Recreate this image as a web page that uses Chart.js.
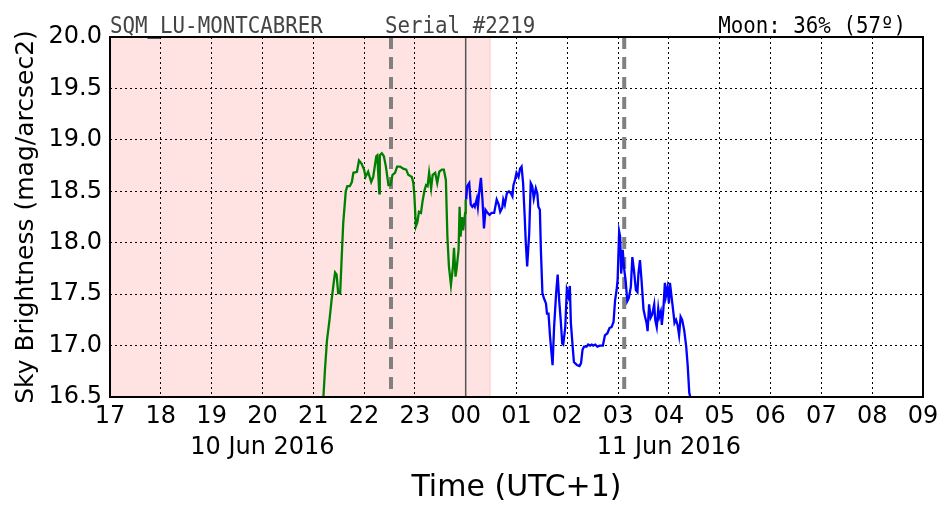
<!DOCTYPE html>
<html>
<head>
<meta charset="utf-8">
<script src="https://cdn.jsdelivr.net/npm/chart.js@4"></script>
<style>
	html, body { margin: 0; padding: 0; background: #ffffff; }
	canvas { display: block; }
</style>
</head>
<body>
<canvas id="sqmChart" width="952" height="512"></canvas>
<script>
// heures depuis 00h du 10 juin (apres minuit = 24+)
const greenHours = [21.20, 21.23, 21.27, 21.32, 21.36, 21.41, 21.43, 21.46, 21.49, 21.53,
	21.56, 21.59, 21.64, 21.67, 21.72, 21.76, 21.79, 21.86, 21.90, 21.95,
	22.00, 22.03, 22.08, 22.14, 22.18, 22.24, 22.26, 22.30, 22.31, 22.35,
	22.39, 22.43, 22.48, 22.52, 22.56, 22.61, 22.65, 22.71, 22.77, 22.83,
	22.87, 22.94, 22.97, 22.99, 23.02, 23.05, 23.08, 23.12, 23.15, 23.19,
	23.22, 23.25, 23.28, 23.32, 23.35, 23.40, 23.44, 23.48, 23.53, 23.57,
	23.61, 23.64, 23.67, 23.71, 23.75, 23.77, 23.80, 23.82, 23.86, 23.88,
	23.90, 23.93, 23.95, 23.99, 24.00];
const greenMags = [16.50, 16.76, 17.05, 17.25, 17.44, 17.64, 17.71, 17.69, 17.51, 17.51,
	17.86, 18.19, 18.50, 18.55, 18.55, 18.59, 18.68, 18.69, 18.80, 18.77,
	18.71, 18.64, 18.69, 18.59, 18.64, 18.84, 18.85, 18.48, 18.85, 18.87,
	18.84, 18.74, 18.56, 18.56, 18.66, 18.68, 18.74, 18.74, 18.72, 18.71,
	18.66, 18.64, 18.58, 18.46, 18.16, 18.20, 18.30, 18.29, 18.40, 18.51,
	18.56, 18.55, 18.68, 18.53, 18.66, 18.68, 18.58, 18.69, 18.71, 18.71,
	18.61, 18.06, 17.77, 17.59, 17.77, 17.95, 17.67, 17.74, 17.93, 18.35,
	18.06, 18.25, 18.12, 18.29, 18.42];

const blueHours = [24.01, 24.03, 24.07, 24.10, 24.13, 24.16, 24.18, 24.22, 24.24, 24.27,
	24.30, 24.33, 24.36, 24.39, 24.43, 24.47, 24.51, 24.56, 24.61, 24.65,
	24.68, 24.72, 24.74, 24.77, 24.81, 24.85, 24.89, 24.92, 24.94, 24.97,
	25.00, 25.04, 25.07, 25.10, 25.13, 25.16, 25.18, 25.21, 25.25, 25.28,
	25.31, 25.34, 25.38, 25.41, 25.43, 25.46, 25.48, 25.51, 25.54, 25.58,
	25.60, 25.63, 25.66, 25.71, 25.74, 25.78, 25.81, 25.84, 25.87, 25.90,
	25.92, 25.96, 25.99, 26.02, 26.05, 26.07, 26.11, 26.13, 26.19, 26.24,
	26.27, 26.30, 26.33, 26.38, 26.41, 26.45, 26.48, 26.51, 26.55, 26.59,
	26.64, 26.70, 26.74, 26.79, 26.83, 26.87, 26.91, 26.94, 26.97, 26.99,
	27.02, 27.04, 27.06, 27.09, 27.12, 27.15, 27.18, 27.21, 27.25, 27.28,
	27.31, 27.35, 27.38, 27.40, 27.43, 27.46, 27.50, 27.53, 27.56, 27.58,
	27.61, 27.64, 27.67, 27.71, 27.73, 27.76, 27.79, 27.81, 27.84, 27.86,
	27.89, 27.92, 27.94, 27.97, 28.00, 28.02, 28.05, 28.09, 28.11, 28.14,
	28.17, 28.20, 28.23, 28.26, 28.30, 28.34, 28.37, 28.40, 28.42];
const blueMags = [18.42, 18.55, 18.58, 18.37, 18.35, 18.37, 18.35, 18.43, 18.35, 18.51,
	18.63, 18.42, 18.14, 18.32, 18.29, 18.27, 18.29, 18.29, 18.42, 18.37,
	18.30, 18.34, 18.42, 18.37, 18.48, 18.50, 18.48, 18.45, 18.56, 18.61,
	18.68, 18.64, 18.72, 18.74, 18.58, 18.27, 18.03, 17.77, 18.09, 18.58,
	18.55, 18.43, 18.53, 18.48, 18.35, 18.32, 17.93, 17.51, 17.46, 17.41,
	17.31, 17.31, 17.09, 16.81, 17.18, 17.51, 17.69, 17.44, 17.25, 17.02,
	17.01, 17.18, 17.54, 17.48, 17.58, 17.22, 16.96, 16.84, 16.81, 16.80,
	16.83, 16.96, 16.99, 16.99, 17.01, 17.00, 17.01, 17.00, 17.01, 16.99,
	17.00, 17.00, 17.10, 17.12, 17.17, 17.18, 17.23, 17.44, 17.54, 17.64,
	18.11, 18.06, 17.70, 17.93, 17.74, 17.62, 17.43, 17.46, 17.57, 17.86,
	17.74, 17.54, 17.52, 17.70, 17.83, 17.64, 17.35, 17.28, 17.22, 17.14,
	17.40, 17.27, 17.30, 17.40, 17.25, 17.18, 17.36, 17.28, 17.33, 17.20,
	17.35, 17.61, 17.48, 17.56, 17.41, 17.61, 17.48, 17.31, 17.22, 17.25,
	17.20, 17.10, 17.28, 17.25, 17.15, 16.99, 16.80, 16.54, 16.50];

// axes
const hourRange = [17, 33];
const magRange = [16.5, 20.0];
const dateTickHours = [20, 28];
const dateTickLabels = ['10 Jun 2016', '11 Jun 2016'];

// zone rose, minuit, lignes pointillees grises
const shadeHours = [17, 24.48];
const midnightHours = [24];
const markerHours = [22.53, 27.12];

// textes du haut
const headerTexts = ['SQM_LU-MONTCABRER', 'Serial #2219', 'Moon: 36% (57º)'];

function toPoints(hours, mags)
{
	return hours.map((h, i) => ({ x: h, y: mags[i] }));
}

function formatHour(value)
{
	const h = Math.round(value) % 24;
	const txt = (h < 10 ? '0' : '') + h;
	const k = dateTickHours.indexOf(Math.round(value));
	if (k >= 0)
		return [txt, dateTickLabels[k]];
	return txt;
}

const backgroundPlugin = {
	id: 'backgroundPlugin',
	beforeDraw(chart) {
		const ctx = chart.ctx;
		const area = chart.chartArea;
		const xs = chart.scales.x;
		const x0 = xs.getPixelForValue(shadeHours[0]);
		const x1 = xs.getPixelForValue(shadeHours[1]);
		ctx.save();
		ctx.fillStyle = '#ffe3e3';
		ctx.fillRect(x0, area.top, x1 - x0, area.bottom - area.top);
		ctx.strokeStyle = '#ffc8c8';
		ctx.lineWidth = 1;
		ctx.beginPath();
		ctx.moveTo(x1, area.top);
		ctx.lineTo(x1, area.bottom);
		ctx.stroke();
		ctx.restore();
	},
	beforeDatasetsDraw(chart) {
		const ctx = chart.ctx;
		const area = chart.chartArea;
		const xs = chart.scales.x;
		ctx.save();
		// minuit
		ctx.strokeStyle = '#555555';
		ctx.lineWidth = 1.5;
		midnightHours.forEach(h => {
			const x = xs.getPixelForValue(h);
			ctx.beginPath();
			ctx.moveTo(x, area.top);
			ctx.lineTo(x, area.bottom);
			ctx.stroke();
		});
		// lignes grises
		ctx.strokeStyle = '#808080';
		ctx.lineWidth = 4;
		ctx.setLineDash([12, 8]);
		markerHours.forEach(h => {
			const x = xs.getPixelForValue(h);
			ctx.beginPath();
			ctx.moveTo(x, area.top);
			ctx.lineTo(x, area.bottom);
			ctx.stroke();
		});
		ctx.restore();
	},
	afterDraw(chart) {
		const ctx = chart.ctx;
		const area = chart.chartArea;
		ctx.save();
		// cadre
		ctx.strokeStyle = '#000000';
		ctx.lineWidth = 2;
		ctx.strokeRect(area.left, area.top, area.right - area.left, area.bottom - area.top);
		// titres (un peu etires en hauteur comme sur l'original)
		ctx.scale(1, 1.1);
		ctx.font = '20.8px "DejaVu Sans Mono"';
		ctx.textBaseline = 'alphabetic';
		ctx.fillStyle = '#444444';
		ctx.textAlign = 'left';
		ctx.fillText(headerTexts[0], area.left, 33 / 1.1);
		ctx.fillText(headerTexts[1], 385, 33 / 1.1);
		ctx.fillStyle = '#000000';
		ctx.textAlign = 'right';
		ctx.fillText(headerTexts[2], 906, 33 / 1.1);
		ctx.restore();
	}
};

function drawChart()
{
	const ctx = document.getElementById('sqmChart').getContext('2d');
	new Chart(ctx, {
		type: 'scatter',
		data: {
			datasets: [{
				data: toPoints(greenHours, greenMags),
				showLine: true,
				borderColor: '#008000',
				borderWidth: 2.3,
				pointRadius: 0
			}, {
				data: toPoints(blueHours, blueMags),
				showLine: true,
				borderColor: '#0000ff',
				borderWidth: 2.3,
				pointRadius: 0
			}]
		},
		options: {
			responsive: false,
			animation: false,
			devicePixelRatio: 1,
			layout: { padding: { left: 11, right: 29, top: 37, bottom: 6 } },
			plugins: {
				legend: { display: false },
				tooltip: { enabled: false }
			},
			scales: {
				x: {
					type: 'linear',
					min: hourRange[0],
					max: hourRange[1],
					afterFit: scale => { scale.height = 109; },
					ticks: {
						stepSize: 1,
						padding: 4,
						color: '#000000',
						font: { family: 'DejaVu Sans', size: 24, lineHeight: 1.3 },
						maxRotation: 0,
						autoSkip: false,
						callback: value => formatHour(value)
					},
					grid: { color: '#000000', lineWidth: 1, drawTicks: false },
					border: { display: false, dash: [2, 3] },
					title: {
						display: true,
						text: 'Time (UTC+1)',
						color: '#000000',
						font: { family: 'DejaVu Sans', size: 30 },
						padding: 0
					}
				},
				y: {
					min: magRange[0],
					max: magRange[1],
					afterFit: scale => { scale.width = 99; },
					ticks: {
						stepSize: 0.5,
						padding: 8,
						color: '#000000',
						font: { family: 'DejaVu Sans', size: 24 },
						callback: value => value.toFixed(1)
					},
					grid: { color: '#000000', lineWidth: 1, drawTicks: false },
					border: { display: false, dash: [2, 3] },
					title: {
						display: true,
						text: 'Sky Brightness (mag/arcsec2)',
						color: '#000000',
						font: { family: 'DejaVu Sans', size: 25 },
						padding: 0
					}
				}
			}
		},
		plugins: [backgroundPlugin]
	});
}

document.addEventListener('DOMContentLoaded', function()
{
	drawChart();
});
</script>
</body>
</html>
